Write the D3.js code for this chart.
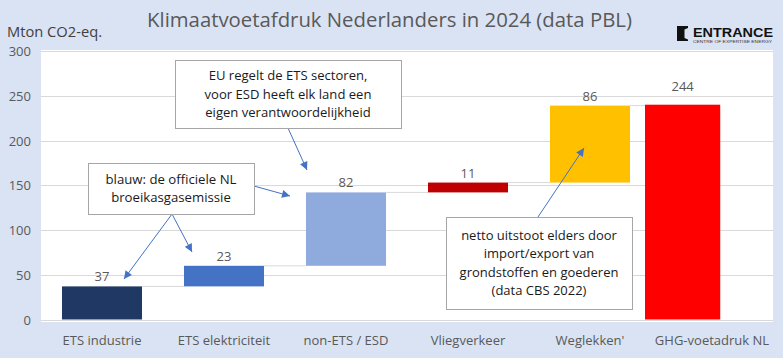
<!DOCTYPE html>
<html><head><meta charset="utf-8">
<script src="https://cdn.jsdelivr.net/npm/d3@7"></script>
<style>html,body{margin:0;padding:0;background:#DAE3F3;}svg{display:block;}</style>
</head><body>
<svg id="c" width="783" height="358"></svg>
<script>
const categories = ["ETS industrie","ETS elektriciteit","non-ETS / ESD","Vliegverkeer","Weglekken'","GHG-voetadruk NL"];
const increments = [37, 23, 82, 11, 86];
const totalBar = 240;
const dataLabels = ["37","23","82","11","86","244"];
const barColors = ["#1F3864","#4472C4","#8FAADC","#C00000","#FFC000","#FF0000"];
const yTicks = [0, 50, 100, 150, 200, 250, 300];
const title = "Klimaatvoetafdruk Nederlanders in 2024 (data PBL)";
const yTitle = "Mton CO2-eq.";
const notes = [
  {lines:["EU regelt de ETS sectoren,","voor ESD heeft elk land een","eigen verantwoordelijkheid"], box:[175,60,401,128], fitW:167},
  {lines:["blauw: de officiele NL","broeikasgasemissie"], box:[88,163,254,214], fitW:131},
  {lines:["netto uitstoot elders door","import/export van","grondstoffen en goederen","(data CBS 2022)"], box:[446,217,632,309], fitW:159}
];
const arrows = [[288,128,307,170],[254,186,290,196],[172,214,124,279],[172,214,192,252],[538,217,584,148]];

const FONT = "'Open Sans', 'Noto Sans', sans-serif";
const svg = d3.select("#c");
const W = 783, H = 358;
const plot = {l:41, r:773, t:50, b:322};
svg.append("rect").attr("width",W).attr("height",H).attr("fill","#DAE3F3");
svg.append("rect").attr("x",plot.l).attr("y",plot.t).attr("width",plot.r-plot.l).attr("height",plot.b-plot.t).attr("fill","#fff");

const x = d3.scaleBand().domain(categories).range([plot.l, plot.r]).paddingInner(0.344).paddingOuter(0.172);
const y = d3.scaleLinear().domain([0,300]).range([319.5, 51]);

function fit(sel, target){
  sel.each(function(){
    const len = this.getComputedTextLength();
    const fs = parseFloat(d3.select(this).attr("font-size"));
    d3.select(this).attr("font-size", (fs*target/len).toFixed(2));
  });
}

// gridlines
svg.append("g").selectAll("line").data(yTicks).join("line")
  .attr("x1",plot.l).attr("x2",plot.r).attr("y1",d=>Math.round(y(d))+0.5).attr("y2",d=>Math.round(y(d))+0.5)
  .attr("stroke","#D9D9D9").attr("stroke-width",1);

// y axis labels
const yAxis = d3.axisLeft(y).tickValues(yTicks).tickSize(0).tickPadding(0);
const ga = svg.append("g").attr("transform","translate(31,0)").call(yAxis);
ga.select(".domain").remove();
ga.selectAll("text").attr("font-family",FONT).attr("font-size",12.5).attr("fill","#595959").attr("dy","0.35em");

// x axis labels
const gx = svg.append("g").attr("transform","translate(0,340)").call(d3.axisBottom(x).tickSize(0).tickPadding(0));
gx.select(".domain").remove();
gx.selectAll("text").attr("font-family",FONT).attr("font-size",12.5).attr("fill","#595959").attr("dy","0.35em");
fit(gx.selectAll("text").filter(d=>d==="ETS industrie"), 79);
const xfs = gx.selectAll("text").filter(d=>d==="ETS industrie").attr("font-size");
gx.selectAll("text").attr("font-size", xfs);
ga.selectAll("text").attr("font-size", xfs);

// waterfall data
let cum = 0;
const last = categories.length - 1;
const bars = categories.map((c,i)=>{
  if(i < increments.length){ const s = cum; cum += increments[i]; return {c, y0:s, y1:cum, i}; }
  return {c, y0:0, y1:totalBar, i};
});
// total bar is drawn narrower and shifted left of its category slot (as in the source)
const bx = d => d.i===last ? x(d.c) + x.bandwidth()/2 - 67 : x(d.c);
const bw = d => d.i===last ? x.bandwidth()*0.94 : x.bandwidth();

// connectors
svg.append("g").selectAll("line").data(bars.slice(0,last)).join("line")
  .attr("x1",d=>bx(d)+bw(d)).attr("x2",d=>bx(bars[d.i+1]))
  .attr("y1",d=>y(d.y1)).attr("y2",d=>y(d.y1))
  .attr("stroke","#D9D9D9").attr("stroke-width",1);

svg.append("g").selectAll("rect").data(bars).join("rect")
  .attr("x",bx).attr("width",bw)
  .attr("y",d=>y(d.y1)).attr("height",d=>y(d.y0)-y(d.y1))
  .attr("fill",d=>barColors[d.i]);

svg.append("g").selectAll("text").data(bars).join("text")
  .attr("x",d=>bx(d)+bw(d)/2).attr("y",d=>y(d.y1) - (d.i===last ? 13.5 : 5))
  .attr("text-anchor","middle").attr("font-family",FONT).attr("font-size",xfs).attr("fill","#595959")
  .text(d=>dataLabels[d.i]);

// title
const t = svg.append("text").attr("x",389.5).attr("y",27).attr("text-anchor","middle")
  .attr("font-family",FONT).attr("font-size",20).attr("fill","#595959").text(title);
fit(t, 485);
const yt = svg.append("text").attr("x",7).attr("y",37).attr("font-family",FONT).attr("font-size",15).attr("fill","#404040").text(yTitle);
fit(yt, 95);

// logo
const logo = svg.append("g");
logo.append("path").attr("d","M677,26 L688,26 L688,28 L684.5,29.5 L684.5,38 L688,39.5 L688,41 L677,41 Z").attr("fill","#111");
logo.append("text").attr("x",693).attr("y",37).attr("font-family","'Liberation Sans', Arial, sans-serif").attr("font-weight","bold")
  .attr("font-size",13.5).attr("fill","#111").attr("textLength",80).attr("lengthAdjust","spacingAndGlyphs").text("ENTRANCE");
logo.append("text").attr("x",693).attr("y",42.5).attr("font-family","'Liberation Sans', Arial, sans-serif")
  .attr("font-size",4).attr("fill","#333").attr("textLength",79).attr("lengthAdjust","spacingAndGlyphs").text("CENTRE OF EXPERTISE ENERGY");

// arrows
svg.append("defs").append("marker").attr("id","ah").attr("viewBox","0 0 10 10").attr("refX",10).attr("refY",5)
  .attr("markerWidth",9).attr("markerHeight",8).attr("markerUnits","userSpaceOnUse").attr("orient","auto")
  .append("path").attr("d","M0,0 L10,5 L0,10 Z").attr("fill","#4472C4");
svg.append("g").selectAll("line").data(arrows).join("line")
  .attr("x1",d=>d[0]).attr("y1",d=>d[1]).attr("x2",d=>d[2]).attr("y2",d=>d[3])
  .attr("stroke","#4472C4").attr("stroke-width",1).attr("marker-end","url(#ah)");

// annotation boxes
notes.forEach(n=>{
  const [x0,y0,x1,y1] = n.box;
  const g = svg.append("g");
  g.append("rect").attr("x",x0+0.5).attr("y",y0+0.5).attr("width",x1-x0).attr("height",y1-y0)
    .attr("fill","#fff").attr("stroke","#A6A6A6").attr("stroke-width",1);
  const lh = 18.3;
  const cy = (y0+y1)/2, start = cy - (n.lines.length-1)*lh/2;
  const txt = g.selectAll("text").data(n.lines).join("text")
    .attr("x",(x0+x1)/2).attr("y",(d,i)=>start+i*lh).attr("dy","0.35em").attr("text-anchor","middle")
    .attr("font-family",FONT).attr("font-size",13).attr("fill","#1a1a1a").text(d=>d);
  let widest = null, wl = 0;
  txt.each(function(){ const l=this.getComputedTextLength(); if(l>wl){wl=l;widest=this;} });
  fit(d3.select(widest), n.fitW);
  txt.attr("font-size", d3.select(widest).attr("font-size"));
});
</script>
</body></html>
